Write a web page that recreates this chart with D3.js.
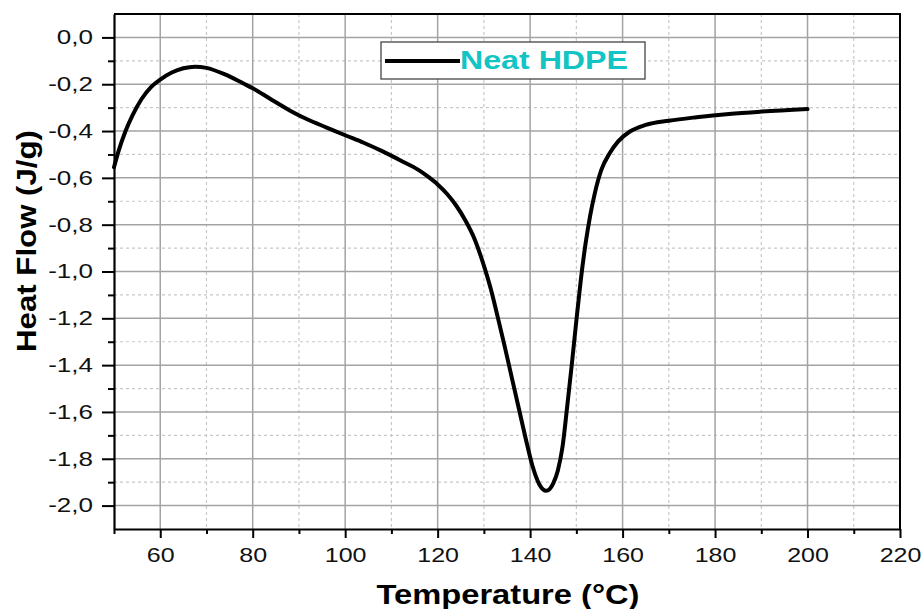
<!DOCTYPE html>
<html>
<head>
<meta charset="utf-8">
<script src="https://cdn.jsdelivr.net/npm/d3@7"></script>
<style>
  body { margin: 0; background: #fff; }
  svg { display: block; font-family: "Liberation Sans", Arial, sans-serif; }
</style>
</head>
<body>
<svg id="chart" width="924" height="609"></svg>
<script>
// DSC heating scan of neat HDPE
const temperature = [
  50, 51, 52.5, 54, 56, 58, 60, 62.5, 65, 67.5, 70, 74, 78, 80, 84, 88, 92, 96,
  100, 104, 108, 112, 116, 118, 120, 122, 124, 126, 128, 130, 131.5, 133,
  134.5, 136, 137.5, 139, 140.5, 142, 143.5, 145, 146, 147, 148, 149,
  150, 151, 152, 153, 154, 155.4, 157.2, 159, 161.5, 165, 170,
  176, 183, 190, 200
];
const heatFlow = [
  -0.555, -0.485, -0.400, -0.333, -0.262, -0.212, -0.180, -0.150, -0.132, -0.125,
  -0.130, -0.158, -0.197, -0.217, -0.265, -0.312, -0.352, -0.385,
  -0.418, -0.450, -0.486, -0.526, -0.568, -0.596, -0.628, -0.668, -0.718, -0.782,
  -0.862, -0.975, -1.075, -1.195,
  -1.320, -1.450, -1.580, -1.710, -1.830, -1.910, -1.937, -1.905, -1.850, -1.750,
  -1.580, -1.400,
  -1.210, -1.030, -0.880, -0.760, -0.665, -0.566, -0.495, -0.445, -0.403,
  -0.374, -0.356,
  -0.341, -0.327, -0.317, -0.306
];
const seriesName = "Neat HDPE";

const xTicks = [60, 80, 100, 120, 140, 160, 180, 200, 220];
const xMinorTicks = [50, 70, 90, 110, 130, 150, 170, 190, 210];
const yTicks = [0, -0.2, -0.4, -0.6, -0.8, -1.0, -1.2, -1.4, -1.6, -1.8, -2.0];
const yMinorTicks = [-0.1, -0.3, -0.5, -0.7, -0.9, -1.1, -1.3, -1.5, -1.7, -1.9];
const yTickLabels = ["0,0", "-0,2", "-0,4", "-0,6", "-0,8", "-1,0", "-1,2", "-1,4", "-1,6", "-1,8", "-2,0"];

const xTitle = "Temperature (°C)";
const yTitle = "Heat Flow (J/g)";

const plot = { left: 114, right: 900, top: 14, bottom: 529 };

const x = d3.scaleLinear().domain([50, 220]).range([plot.left, plot.right]);
const y = d3.scaleLinear().domain([-2.1, 0.1]).range([plot.bottom, plot.top]);

const svg = d3.select("#chart");

// gridlines: dashed minor first, solid major on top
const grid = svg.append("g");
grid.selectAll("line.vminor").data(xMinorTicks.slice(1)).join("line")
  .attr("x1", d => x(d)).attr("x2", d => x(d))
  .attr("y1", plot.top).attr("y2", plot.bottom)
  .attr("stroke", "#c8c8c8").attr("stroke-width", 1.2).attr("stroke-dasharray", "3,3");
grid.selectAll("line.hminor").data(yMinorTicks).join("line")
  .attr("x1", plot.left).attr("x2", plot.right)
  .attr("y1", d => y(d)).attr("y2", d => y(d))
  .attr("stroke", "#c8c8c8").attr("stroke-width", 1.2).attr("stroke-dasharray", "3,3");
grid.selectAll("line.vmajor").data(xTicks.slice(0, -1)).join("line")
  .attr("x1", d => x(d)).attr("x2", d => x(d))
  .attr("y1", plot.top).attr("y2", plot.bottom)
  .attr("stroke", "#a3a3a3").attr("stroke-width", 1.5);
grid.selectAll("line.hmajor").data(yTicks).join("line")
  .attr("x1", plot.left).attr("x2", plot.right)
  .attr("y1", d => y(d)).attr("y2", d => y(d))
  .attr("stroke", "#a3a3a3").attr("stroke-width", 1.5);

// curve
const line = d3.line()
  .x((d, i) => x(temperature[i]))
  .y(d => y(d))
  .curve(d3.curveMonotoneX);
svg.append("path")
  .datum(heatFlow)
  .attr("d", line)
  .attr("fill", "none")
  .attr("stroke", "#000")
  .attr("stroke-width", 4)
  .attr("stroke-linejoin", "round")
  .attr("stroke-linecap", "round");

// frame top/right
svg.append("path")
  .attr("d", `M${plot.left},${plot.top}H${plot.right}V${plot.bottom}`)
  .attr("fill", "none").attr("stroke", "#000").attr("stroke-width", 2);

// axes
function styleAxis(g) {
  g.select(".domain").attr("stroke", "#000").attr("stroke-width", 2.2);
  g.selectAll(".tick line").attr("stroke", "#000").attr("stroke-width", 2);
}

const xAxis = svg.append("g")
  .attr("transform", `translate(0,${plot.bottom})`)
  .call(d3.axisBottom(x).tickValues(xTicks).tickSize(9).tickSizeOuter(0).tickPadding(10)
    .tickFormat(d => String(d)));
xAxis.call(styleAxis);
xAxis.selectAll("text").attr("font-size", 20).attr("fill", "#111").attr("class", "tx");

svg.append("g")
  .attr("transform", `translate(0,${plot.bottom})`)
  .call(d3.axisBottom(x).tickValues(xMinorTicks).tickSize(5).tickSizeOuter(0).tickFormat(""))
  .call(g => g.select(".domain").remove())
  .call(g => g.selectAll(".tick line").attr("stroke", "#000").attr("stroke-width", 2));

const yAxis = svg.append("g")
  .attr("transform", `translate(${plot.left},0)`)
  .call(d3.axisLeft(y).tickValues(yTicks).tickSize(12).tickSizeOuter(0).tickPadding(9)
    .tickFormat((d, i) => yTickLabels[i]));
yAxis.call(styleAxis);
yAxis.selectAll("text").attr("font-size", 20).attr("fill", "#111").attr("class", "ty");

svg.append("g")
  .attr("transform", `translate(${plot.left},0)`)
  .call(d3.axisLeft(y).tickValues(yMinorTicks).tickSize(6).tickSizeOuter(0).tickFormat(""))
  .call(g => g.select(".domain").remove())
  .call(g => g.selectAll(".tick line").attr("stroke", "#000").attr("stroke-width", 2));

// widen tick labels slightly
function stretch(sel, k) {
  sel.each(function () {
    const w = this.getComputedTextLength();
    d3.select(this).attr("textLength", w * k).attr("lengthAdjust", "spacingAndGlyphs");
  });
}
stretch(svg.selectAll("text.tx"), 1.25);
stretch(svg.selectAll("text.ty"), 1.3);

// axis titles
svg.append("text")
  .attr("x", 508).attr("y", 604)
  .attr("text-anchor", "middle")
  .attr("font-size", 27).attr("font-weight", "bold").attr("fill", "#000")
  .attr("textLength", 263).attr("lengthAdjust", "spacingAndGlyphs")
  .text(xTitle);

svg.append("text")
  .attr("transform", "translate(36,241) rotate(-90)")
  .attr("text-anchor", "middle")
  .attr("font-size", 27).attr("font-weight", "bold").attr("fill", "#000")
  .attr("textLength", 222).attr("lengthAdjust", "spacingAndGlyphs")
  .text(yTitle);

// legend
const legend = svg.append("g");
legend.append("rect")
  .attr("x", 381).attr("y", 42).attr("width", 264).attr("height", 37)
  .attr("fill", "#fff").attr("stroke", "#444").attr("stroke-width", 1.3);
legend.append("line")
  .attr("x1", 385).attr("x2", 460).attr("y1", 61).attr("y2", 61)
  .attr("stroke", "#000").attr("stroke-width", 4);
legend.append("text")
  .attr("x", 460).attr("y", 69)
  .attr("font-size", 26).attr("font-weight", "bold").attr("fill", "#12c4c4")
  .attr("textLength", 168).attr("lengthAdjust", "spacingAndGlyphs")
  .text(seriesName);
</script>
</body>
</html>
